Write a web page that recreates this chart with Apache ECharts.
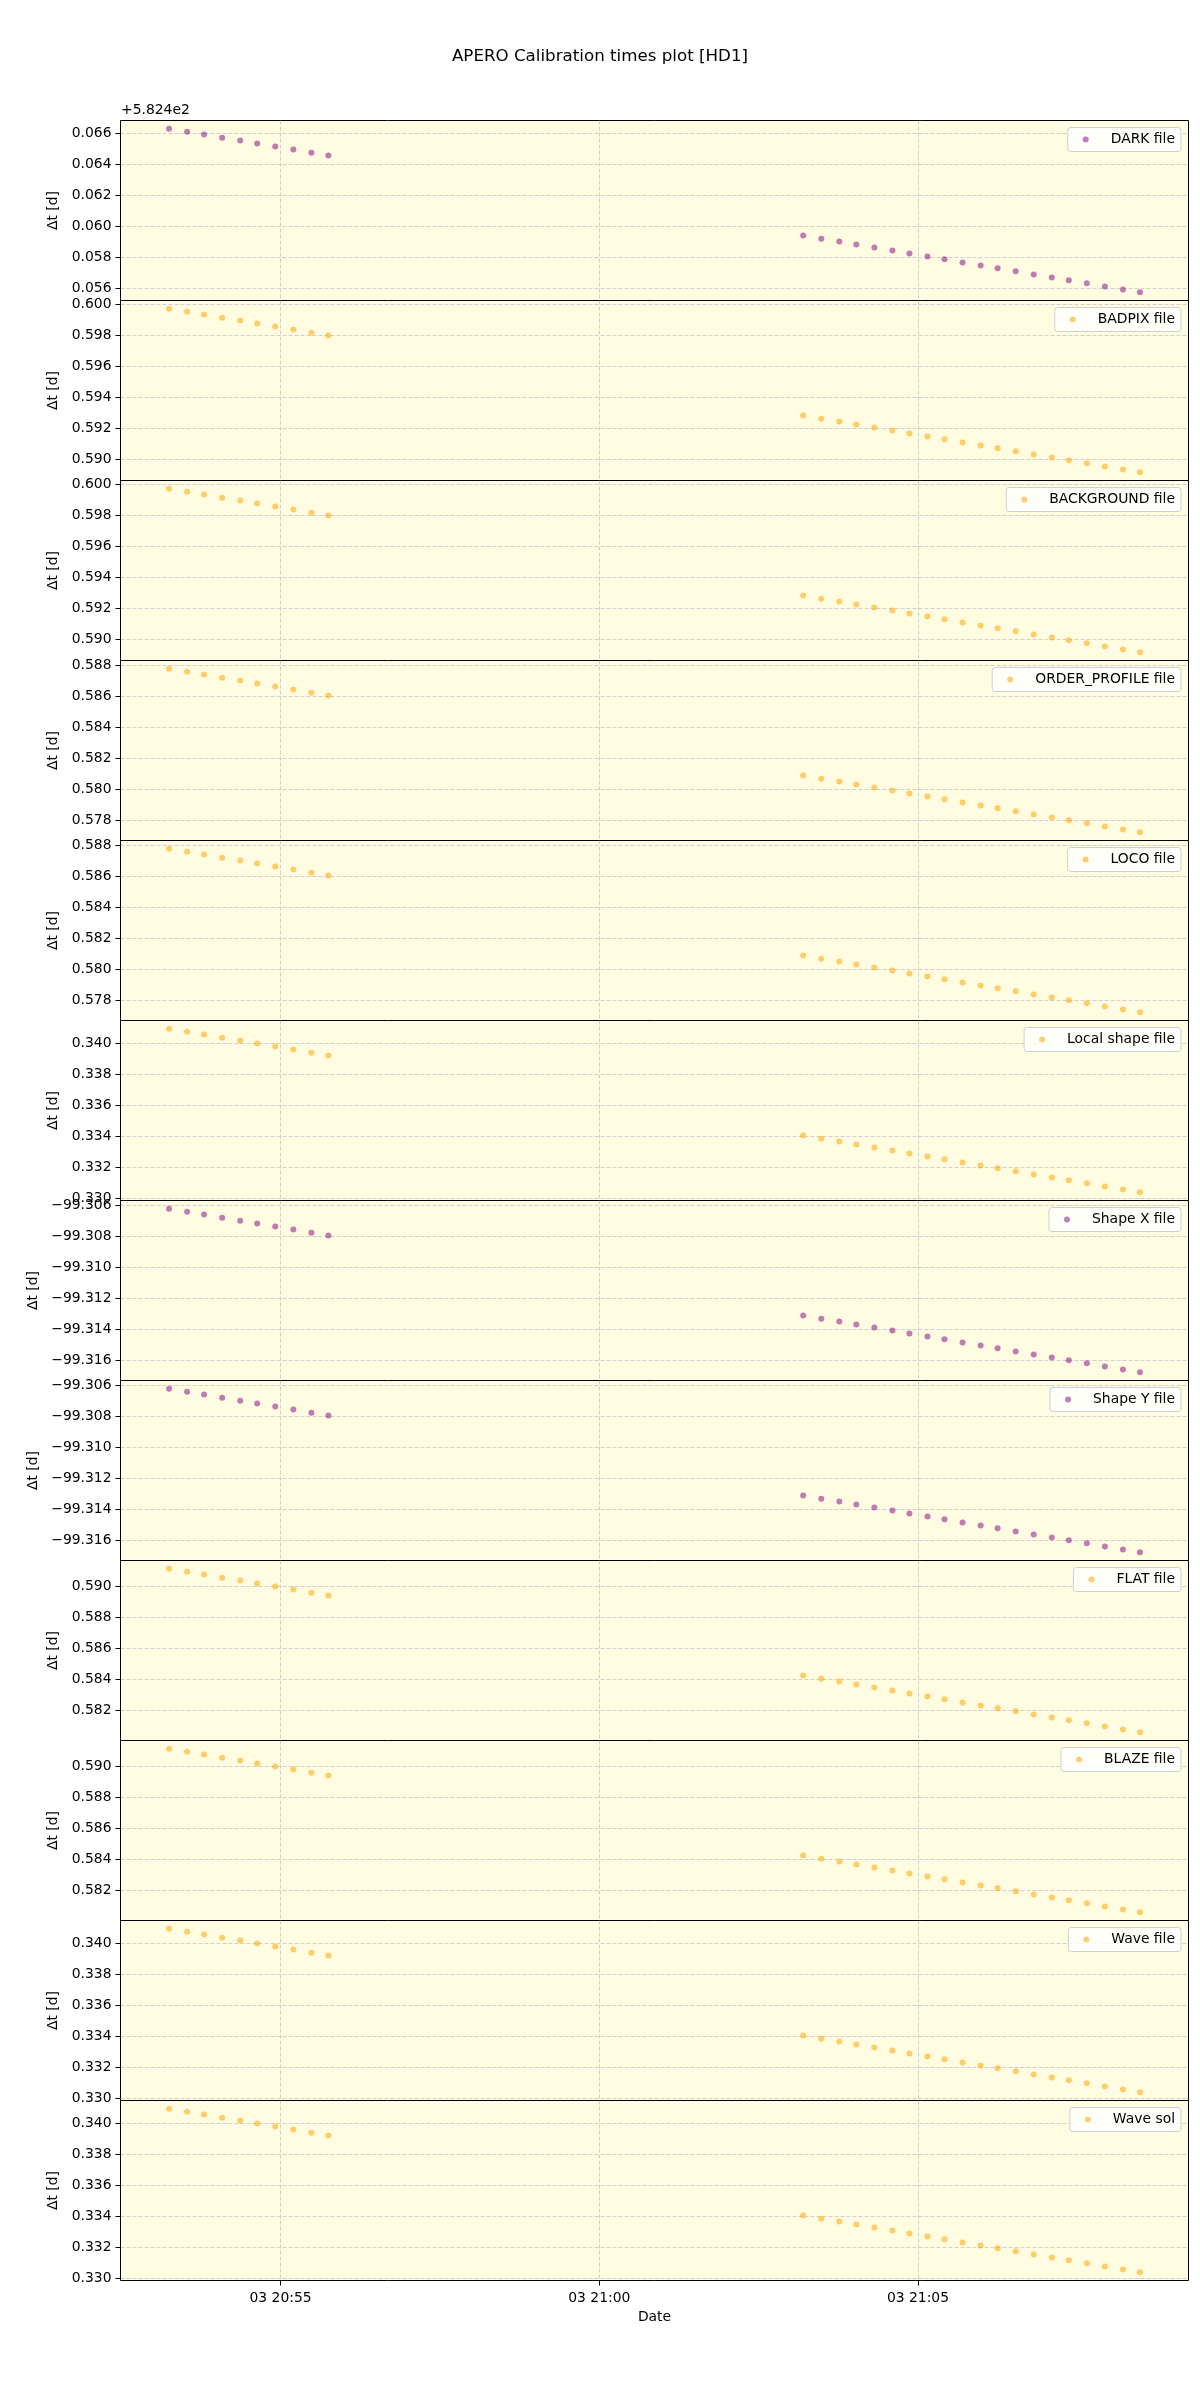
<!DOCTYPE html>
<html>
<head>
<meta charset="utf-8">
<script src="https://cdn.jsdelivr.net/npm/echarts@6/dist/echarts.min.js"></script>
<style>html,body{margin:0;padding:0;background:#fff}#c{width:1200px;height:2400px}</style>
</head>
<body>
<div id="c"></div>
<script>
// ---- data ----
const obsTimes = ['20:53:15','20:53:32','20:53:48','20:54:05','20:54:22','20:54:38','20:54:55','20:55:12','20:55:29','20:55:45',
  '21:03:12','21:03:29','21:03:46','21:04:02','21:04:19','21:04:36','21:04:52','21:05:09','21:05:25','21:05:42',
  '21:05:59','21:06:15','21:06:32','21:06:49','21:07:06','21:07:22','21:07:39','21:07:56','21:08:13','21:08:29'];

const darkFile = [582.46632,582.46612,582.46594,582.46574,582.46555,582.46536,582.46516,582.46497,582.46477,582.46458,
  582.45941,582.45921,582.45902,582.45883,582.45864,582.45844,582.45825,582.45806,582.45787,582.45767,
  582.45748,582.45729,582.45710,582.45690,582.45670,582.45652,582.45632,582.45612,582.45593,582.45574];
const badpixFile = [0.59974,0.59954,0.59936,0.59916,0.59897,0.59878,0.59858,0.59839,0.59819,0.59800,
  0.59283,0.59263,0.59244,0.59225,0.59206,0.59186,0.59167,0.59148,0.59129,0.59109,
  0.59090,0.59071,0.59052,0.59032,0.59012,0.58994,0.58974,0.58954,0.58935,0.58916];
const backgroundFile = [0.59974,0.59954,0.59936,0.59916,0.59897,0.59878,0.59858,0.59839,0.59819,0.59800,
  0.59283,0.59263,0.59244,0.59225,0.59206,0.59186,0.59167,0.59148,0.59129,0.59109,
  0.59090,0.59071,0.59052,0.59032,0.59012,0.58994,0.58974,0.58954,0.58935,0.58916];
const orderProfileFile = [0.58781,0.58761,0.58743,0.58723,0.58704,0.58685,0.58665,0.58646,0.58626,0.58607,
  0.58090,0.58070,0.58051,0.58032,0.58013,0.57993,0.57974,0.57955,0.57936,0.57916,
  0.57897,0.57878,0.57859,0.57839,0.57819,0.57801,0.57781,0.57761,0.57742,0.57723];
const locoFile = [0.58781,0.58761,0.58743,0.58723,0.58704,0.58685,0.58665,0.58646,0.58626,0.58607,
  0.58090,0.58070,0.58051,0.58032,0.58013,0.57993,0.57974,0.57955,0.57936,0.57916,
  0.57897,0.57878,0.57859,0.57839,0.57819,0.57801,0.57781,0.57761,0.57742,0.57723];
const localShapeFile = [0.34097,0.34077,0.34059,0.34039,0.34020,0.34001,0.33981,0.33962,0.33942,0.33923,
  0.33406,0.33386,0.33367,0.33348,0.33329,0.33309,0.33290,0.33271,0.33252,0.33232,
  0.33213,0.33194,0.33175,0.33155,0.33135,0.33117,0.33097,0.33077,0.33058,0.33039];
const shapeXFile = [-99.30621,-99.30641,-99.30659,-99.30679,-99.30699,-99.30717,-99.30737,-99.30756,-99.30776,-99.30795,
  -99.31312,-99.31332,-99.31351,-99.31370,-99.31390,-99.31409,-99.31428,-99.31447,-99.31466,-99.31486,
  -99.31505,-99.31524,-99.31544,-99.31563,-99.31583,-99.31601,-99.31621,-99.31641,-99.31660,-99.31679];
const shapeYFile = [-99.30620,-99.30640,-99.30658,-99.30678,-99.30698,-99.30716,-99.30736,-99.30755,-99.30775,-99.30794,
  -99.31311,-99.31331,-99.31350,-99.31369,-99.31389,-99.31408,-99.31427,-99.31446,-99.31465,-99.31485,
  -99.31504,-99.31523,-99.31543,-99.31562,-99.31582,-99.31600,-99.31620,-99.31640,-99.31659,-99.31678];
const flatFile = [0.59116,0.59096,0.59078,0.59058,0.59039,0.59020,0.59000,0.58981,0.58961,0.58942,
  0.58425,0.58405,0.58386,0.58367,0.58348,0.58328,0.58309,0.58290,0.58271,0.58251,
  0.58232,0.58213,0.58194,0.58174,0.58154,0.58136,0.58116,0.58096,0.58077,0.58058];
const blazeFile = [0.59116,0.59096,0.59078,0.59058,0.59039,0.59020,0.59000,0.58981,0.58961,0.58942,
  0.58425,0.58405,0.58386,0.58367,0.58348,0.58328,0.58309,0.58290,0.58271,0.58251,
  0.58232,0.58213,0.58194,0.58174,0.58154,0.58136,0.58116,0.58096,0.58077,0.58058];
const waveFile = [0.34097,0.34077,0.34059,0.34039,0.34020,0.34001,0.33981,0.33962,0.33942,0.33923,
  0.33406,0.33386,0.33367,0.33348,0.33329,0.33309,0.33290,0.33271,0.33252,0.33232,
  0.33213,0.33194,0.33175,0.33155,0.33135,0.33117,0.33097,0.33077,0.33058,0.33039];
const waveSol = [0.34097,0.34077,0.34059,0.34039,0.34020,0.34001,0.33981,0.33962,0.33942,0.33923,
  0.33406,0.33386,0.33367,0.33348,0.33329,0.33309,0.33290,0.33271,0.33252,0.33232,
  0.33213,0.33194,0.33175,0.33155,0.33135,0.33117,0.33097,0.33077,0.33058,0.33039];

const seriesNames = ['DARK file','BADPIX file','BACKGROUND file','ORDER_PROFILE file','LOCO file','Local shape file',
  'Shape X file','Shape Y file','FLAT file','BLAZE file','Wave file','Wave sol'];

// tick values / labels
const yTicksDark = [582.456,582.458,582.460,582.462,582.464,582.466];
const yLabelsDark = ['0.056','0.058','0.060','0.062','0.064','0.066'];
const yTicksBadpix = [0.590,0.592,0.594,0.596,0.598,0.600];
const yLabelsBadpix = ['0.590','0.592','0.594','0.596','0.598','0.600'];
const yTicksOrder = [0.578,0.580,0.582,0.584,0.586,0.588];
const yLabelsOrder = ['0.578','0.580','0.582','0.584','0.586','0.588'];
const yTicksLocal = [0.330,0.332,0.334,0.336,0.338,0.340];
const yLabelsLocal = ['0.330','0.332','0.334','0.336','0.338','0.340'];
const yTicksShape = [-99.316,-99.314,-99.312,-99.310,-99.308,-99.306];
const yLabelsShape = ['\u221299.316','\u221299.314','\u221299.312','\u221299.310','\u221299.308','\u221299.306'];
const yTicksFlat = [0.582,0.584,0.586,0.588,0.590];
const yLabelsFlat = ['0.582','0.584','0.586','0.588','0.590'];
const xTickTimes = ['20:55:00','21:00:00','21:05:00'];
const xTickLabels = ['03 20:55','03 21:00','03 21:05'];

// ---- build ----
const PURPLE = 'rgba(128,0,128,0.64)';
const ORANGE = 'rgba(255,165,0,0.68)';
const panels = [
  {vals: darkFile, ticks: yTicksDark, labels: yLabelsDark, color: PURPLE},
  {vals: badpixFile, ticks: yTicksBadpix, labels: yLabelsBadpix, color: ORANGE},
  {vals: backgroundFile, ticks: yTicksBadpix, labels: yLabelsBadpix, color: ORANGE},
  {vals: orderProfileFile, ticks: yTicksOrder, labels: yLabelsOrder, color: ORANGE},
  {vals: locoFile, ticks: yTicksOrder, labels: yLabelsOrder, color: ORANGE},
  {vals: localShapeFile, ticks: yTicksLocal, labels: yLabelsLocal, color: ORANGE},
  {vals: shapeXFile, ticks: yTicksShape, labels: yLabelsShape, color: PURPLE},
  {vals: shapeYFile, ticks: yTicksShape, labels: yLabelsShape, color: PURPLE},
  {vals: flatFile, ticks: yTicksFlat, labels: yLabelsFlat, color: ORANGE},
  {vals: blazeFile, ticks: yTicksFlat, labels: yLabelsFlat, color: ORANGE},
  {vals: waveFile, ticks: yTicksLocal, labels: yLabelsLocal, color: ORANGE},
  {vals: waveSol, ticks: yTicksLocal, labels: yLabelsLocal, color: ORANGE}
];

function toMs(t) {
  const p = t.split(':').map(Number);
  return Date.UTC(2023, 0, 3, p[0], p[1], p[2]);
}
const xs = obsTimes.map(toMs);
const xMinD = Math.min(...xs), xMaxD = Math.max(...xs);
const xPad = (xMaxD - xMinD) * 0.05;
const xMin = xMinD - xPad, xMax = xMaxD + xPad;
const xTicks = xTickTimes.map(toMs);

const FONT = 'DejaVu Sans';
const FS = 13.9;
const LEFT = 120.5, TOP0 = 120.5, PH = 180, PW = 1068;

const grids = [], xAxes = [], yAxes = [], series = [], legends = [];
panels.forEach((p, k) => {
  const top = TOP0 + PH * k;
  const last = k === panels.length - 1;
  grids.push({left: LEFT, top: top, width: PW, height: PH, show: true,
    backgroundColor: '#fffce1', borderColor: '#000', borderWidth: 1});
  xAxes.push({
    type: 'value', gridIndex: k, min: xMin, max: xMax,
    axisLine: {show: false},
    axisTick: {show: last, customValues: xTicks, length: 5, lineStyle: {color: '#000'}},
    axisLabel: {show: last, customValues: xTicks, margin: 11, color: '#000', fontFamily: FONT, fontSize: FS,
      formatter: v => { const i = xTicks.findIndex(t => Math.abs(t - v) < 1); return i >= 0 ? xTickLabels[i] : ''; }},
    splitLine: {show: true, lineStyle: {color: 'rgba(176,176,196,0.6)', type: [4, 2], width: 1}},
    name: last ? 'Date' : '', nameLocation: 'middle', nameGap: 30,
    nameTextStyle: {color: '#000', fontFamily: FONT, fontSize: FS}
  });
  const vMin = Math.min(...p.vals), vMax = Math.max(...p.vals);
  const pad = (vMax - vMin) * 0.05;
  const isShape = p.ticks === yTicksShape;
  yAxes.push({
    type: 'value', gridIndex: k, min: vMin - pad, max: vMax + pad, scale: true,
    axisLine: {show: false},
    axisTick: {show: true, customValues: p.ticks, length: 5, lineStyle: {color: '#000'}},
    axisLabel: {customValues: p.ticks, margin: 9, color: '#000', fontFamily: FONT, fontSize: FS,
      showMinLabel: true, showMaxLabel: true,
      formatter: v => { const i = p.ticks.findIndex(t => Math.abs(t - v) < 1e-7); return i >= 0 ? p.labels[i] : ''; }},
    splitLine: {show: true, lineStyle: {color: 'rgba(176,176,196,0.6)', type: [4, 2], width: 1}},
    name: '\u0394t [d]', nameLocation: 'middle', nameGap: isShape ? 79 : 57,
    nameTextStyle: {color: '#000', fontFamily: FONT, fontSize: FS}
  });
  series.push({
    type: 'scatter', name: seriesNames[k], xAxisIndex: k, yAxisIndex: k,
    symbol: 'circle', symbolSize: 6,
    itemStyle: {color: p.color},
    data: xs.map((x, i) => [x, p.vals[i]]),
    z: 3
  });
  legends.push({
    data: [seriesNames[k]], right: 19, top: top + 7, orient: 'horizontal',
    icon: 'circle', itemWidth: 6, itemHeight: 6, selectedMode: false,
    padding: [4, 6, 4, 15], backgroundColor: 'rgba(255,255,255,0.8)',
    borderColor: '#cfcfcf', borderWidth: 1, borderRadius: 3,
    textStyle: {color: '#000', fontFamily: FONT, fontSize: FS, lineHeight: 16, padding: [0, 0, 0, 17]}
  });
});

const chart = echarts.init(document.getElementById('c'), null, {renderer: 'canvas'});
chart.setOption({
  animation: false,
  backgroundColor: '#ffffff',
  title: {text: 'APERO Calibration times plot [HD1]', left: 'center', top: 43,
    textStyle: {color: '#000', fontFamily: FONT, fontSize: 16.7, fontWeight: 'normal'}},
  graphic: [{type: 'text', left: 121, top: 103,
    style: {text: '+5.824e2', fill: '#000', font: FS + 'px "' + FONT + '"'}}],
  legend: legends,
  grid: grids, xAxis: xAxes, yAxis: yAxes, series: series
});
</script>
</body>
</html>
